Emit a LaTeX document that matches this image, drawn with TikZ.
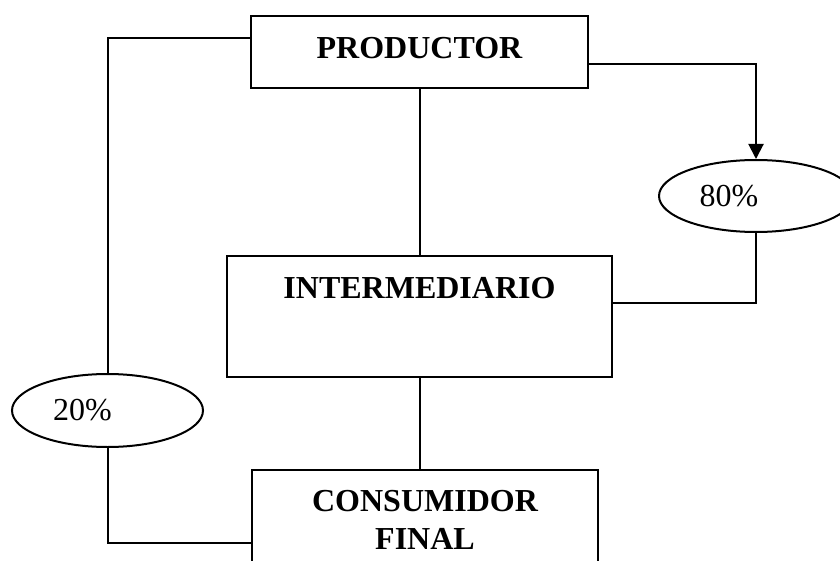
\documentclass[tikz,border=0pt]{standalone}
\usepackage{fontspec}
\setmainfont{Liberation Serif}
\usetikzlibrary{shapes.geometric, arrows.meta}

\begin{document}
\begin{tikzpicture}[
        x=0.5pt, y=-0.5pt,
        box/.style={
            rectangle,
            draw,
            anchor=north,
            inner sep=0pt,
            align=center,
            font=\fontsize{16}{19}\selectfont\bfseries,
        },
        share/.style={
            ellipse,
            draw,
            inner sep=0pt,
            font=\fontsize{16}{19}\selectfont,
        },
        >={Triangle[width=7.5pt,length=7.5pt]},
        line width=1pt,
    ]
    \useasboundingbox (0,0) rectangle (840,561);
    \clip (0,0) rectangle (840,561);

    \node [box, minimum width=168.5pt, text height=21.5pt, text depth=14.5pt]
        (prod) at (419.5,15) {PRODUCTOR};
    \node [box, minimum width=192.5pt, text height=21.5pt, text depth=39pt]
        (inter) at (419.5,255) {INTERMEDIARIO};
    \node [box, minimum width=173pt, text height=39.5pt, text depth=26pt]
        (cons) at (425,469) {CONSUMIDOR\\FINAL};
    \node [share, minimum width=97pt, minimum height=36pt]
        (p80) at (756,196) {80\%\hspace*{27pt}};
    \node [share, minimum width=95.5pt, minimum height=36.5pt]
        (p20) at (107.5,410.5) {20\%\hspace*{25pt}};

    \draw (prod.south) -- (inter.north);
    \draw (inter.south) -- (inter.south |- cons.north);
    \draw [->] ([yshift=-24.5pt]prod.north east) -| (p80.north);
    \draw (p80.south) |- ([yshift=-24pt]inter.north east);
    \draw ([yshift=-11.5pt]prod.north west) -| (p20.north);
    \draw (p20.south) |- ([yshift=-37pt]cons.north west);
\end{tikzpicture}
\end{document}
